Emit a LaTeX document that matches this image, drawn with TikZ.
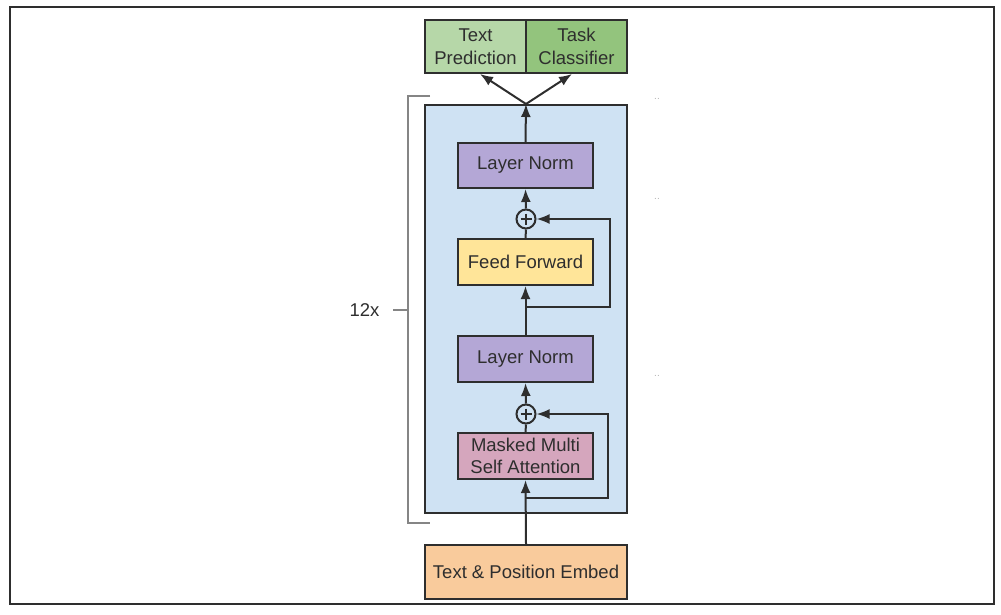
\documentclass[tikz,border=0pt]{standalone}
\usepackage{fontspec}
\setmainfont{Liberation Sans}
\usetikzlibrary{arrows.meta,calc}
\definecolor{ink}{HTML}{2E2E2E}
\definecolor{blueback}{HTML}{CFE2F3}
\definecolor{lnpurple}{HTML}{B4A7D6}
\definecolor{ffyellow}{HTML}{FFE599}
\definecolor{attpink}{HTML}{D5A6BD}
\definecolor{emborange}{HTML}{F9CB9C}
\definecolor{greenlight}{HTML}{B6D7A8}
\definecolor{greendark}{HTML}{93C47D}
\definecolor{brackgray}{HTML}{858585}
\tikzset{
  block/.style={draw=ink, line width=2pt, inner sep=0pt, align=center,
    text=ink, font=\fontsize{18.5}{22.5}\selectfont},
  arr/.style={draw=ink, line width=2pt, -{Latex[length=13pt,width=10pt]}},
  wire/.style={draw=ink, line width=2pt},
  addnode/.style={circle, draw=ink, line width=2pt, fill=blueback,
    minimum size=19pt, inner sep=0pt,
    path picture={
      \draw[ink, line width=1.5pt]
        ([yshift=-4pt]path picture bounding box.north) -- ([yshift=4pt]path picture bounding box.south)
        ([xshift=4pt]path picture bounding box.west) -- ([xshift=-4pt]path picture bounding box.east);
    }},
  tinydots/.style={text=gray!60, font=\fontsize{10}{10}\selectfont, inner sep=0pt}
}
\begin{document}
\begin{tikzpicture}[x=1pt,y=-1pt]
  \useasboundingbox (0,0) rectangle (1001,615);
  % outer frame
  \draw[ink, line width=1.5pt] (10,7) rectangle (994,604);

  % repeated decoder block
  \node[block, fill=blueback, minimum width=202pt, minimum height=408pt] (blue) at (526,309) {};

  % sub-layers
  \node[block, fill=lnpurple, minimum width=135pt, minimum height=45pt] (ln1) at (525.5,165.5) {Layer Norm};
  \node[addnode] (p1) at (526,219) {};
  \node[block, fill=ffyellow, minimum width=135pt, minimum height=46pt] (ff) at (525.5,262) {Feed Forward};
  \node[block, fill=lnpurple, minimum width=135pt, minimum height=46pt] (ln2) at (525.5,359) {Layer Norm};
  \node[addnode] (p2) at (526,414) {};
  \node[block, fill=attpink, minimum width=135pt, minimum height=46pt] (mm) at (525.5,456) {Masked Multi\\Self Attention};

  % input and output heads
  \node[block, fill=emborange, minimum width=202pt, minimum height=54pt] (emb) at (526,572) {Text \& Position Embed};
  \node[block, fill=greenlight, minimum width=101pt, minimum height=53pt] (tp) at (475.5,46.5) {Text\\Prediction};
  \node[block, fill=greendark, minimum width=101pt, minimum height=53pt] (tc) at (576.5,46.5) {Task\\Classifier};

  % residual branch points
  \coordinate (s2) at (526,498);
  \coordinate (r2) at (608,498);
  \coordinate (s1) at (526,307);
  \coordinate (r1) at (610,307);

  % data flow
  \draw[arr] (emb.north) -- (mm.south);
  \draw[arr] (s2) -- (r2) |- (p2.east);
  \draw[wire] (mm.north) -- (p2.south);
  \draw[arr] (p2.north) -- (ln2.south);
  \draw[arr] (ln2.north) -- (ff.south);
  \draw[arr] (s1) -- (r1) |- (p1.east);
  \draw[wire] (ff.north) -- (p1.south);
  \draw[arr] (p1.north) -- (ln1.south);
  \draw[arr] (ln1.north) -- (blue.north);
  \draw[arr] (blue.north) -- ($(tp.south)+(4.5,0)$);
  \draw[arr] (blue.north) -- ($(tc.south)+(-4.5,0)$);

  % repetition bracket
  \coordinate (bt) at (430,96);
  \coordinate (bb) at (430,523);
  \draw[brackgray, line width=1.8pt] (bt) -- (408,96) -- (408,523) -- (bb);
  \coordinate (bm) at (408,310);
  \draw[brackgray, line width=1.8pt] (bm) -- (393,310);
  \node[text=ink, font=\fontsize{18.5}{22.5}\selectfont, anchor=east] (rep) at (383,310) {12x};

  % faint marks on the right
  \node[tinydots] (d1) at (657,99) {..};
  \node[tinydots] (d2) at (657,199) {..};
  \node[tinydots] (d3) at (657,376) {..};
\end{tikzpicture}
\end{document}
